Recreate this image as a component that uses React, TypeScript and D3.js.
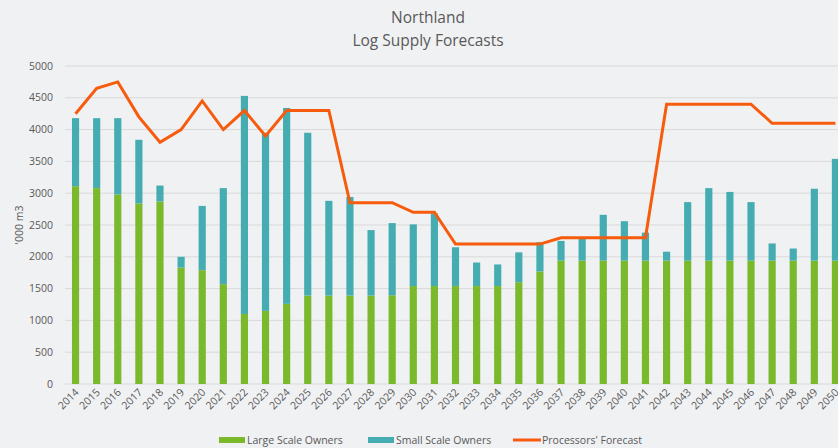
import React from 'react'
import * as d3 from 'd3'

const years = [
  '2014', '2015', '2016', '2017', '2018', '2019', '2020', '2021', '2022', '2023',
  '2024', '2025', '2026', '2027', '2028', '2029', '2030', '2031', '2032', '2033',
  '2034', '2035', '2036', '2037', '2038', '2039', '2040', '2041', '2042', '2043',
  '2044', '2045', '2046', '2047', '2048', '2049', '2050',
]

const largeOwners = [
  3110, 3080, 2980, 2840, 2870, 1830, 1790, 1570, 1100, 1150,
  1260, 1390, 1390, 1390, 1390, 1395, 1540, 1540, 1540, 1540,
  1540, 1600, 1770, 1940, 1940, 1940, 1940, 1940, 1940, 1940,
  1940, 1940, 1940, 1940, 1940, 1940, 1940,
]

const totalSupply = [
  4180, 4180, 4180, 3840, 3120, 2000, 2800, 3080, 4530, 3950,
  4340, 3950, 2880, 2940, 2420, 2530, 2510, 2680, 2150, 1910,
  1880, 2070, 2230, 2250, 2280, 2660, 2560, 2380, 2080, 2860,
  3080, 3020, 2860, 2210, 2130, 3070, 3540,
]
const smallOwners = totalSupply.map((t, i) => t - largeOwners[i])

const processorsForecast = [
  4250, 4650, 4750, 4200, 3800, 4000, 4450, 4000, 4300, 3900,
  4300, 4300, 4300, 2850, 2850, 2850, 2700, 2700, 2200, 2200,
  2200, 2200, 2200, 2300, 2300, 2300, 2300, 2300, 4400, 4400,
  4400, 4400, 4400, 4100, 4100, 4100, 4100,
]

const yTicks = [0, 500, 1000, 1500, 2000, 2500, 3000, 3500, 4000, 4500, 5000]

const width = 838
const height = 448
const font = "'Open Sans', sans-serif"
const textColor = '#595959'
const green = '#7AB92B'
const teal = '#45ADB1'
const orange = '#F65B0E'

export default function App() {
  const x = d3.scaleBand().domain(years).range([65, 846]).paddingInner(0.66).paddingOuter(0.33)
  const y = d3.scaleLinear().domain([0, 5000]).range([384, 66])
  const cx = (yr) => (x(yr) as number) + x.bandwidth() / 2

  const line = d3
    .line<number>()
    .x((d, i) => cx(years[i]))
    .y((d) => y(d))

  return (
    <div style={{ position: 'absolute', left: 0, top: 0 }}>
      <svg width={width} height={height} style={{ display: 'block', background: '#F0F1F3', fontFamily: font }}>
        <text x={428} y={23} textAnchor="middle" fontSize={15.5} fill={textColor}>Northland</text>
        <text x={428} y={46} textAnchor="middle" fontSize={15.5} fill={textColor}>Log Supply Forecasts</text>

        {/* grid + y axis */}
        <g>
          {yTicks.map((t) => (
            <g key={t}>
              <line x1={65} x2={846} y1={y(t)} y2={y(t)} stroke="#D9D9D9" strokeWidth={1} />
              <text x={53} y={y(t)} dy="0.35em" textAnchor="end" fontSize={10.5} fill={textColor}>{t}</text>
            </g>
          ))}
        </g>
        <text transform={`translate(23,225) rotate(-90)`} textAnchor="middle" fontSize={10.5} fill={textColor}>'000 m3</text>

        {/* stacked bars */}
        <g>
          {years.map((yr, i) => (
            <g key={yr}>
              <rect x={x(yr)} width={x.bandwidth()} y={y(largeOwners[i])} height={y(0) - y(largeOwners[i])} fill={green} />
              <rect x={x(yr)} width={x.bandwidth()} y={y(totalSupply[i])} height={y(largeOwners[i]) - y(totalSupply[i])} fill={teal} />
            </g>
          ))}
        </g>

        <path d={line(processorsForecast) as string} fill="none" stroke={orange} strokeWidth={3} strokeLinejoin="miter" />

        {/* x axis labels */}
        <g>
          {years.map((yr) => (
            <text
              key={yr}
              transform={`translate(${cx(yr) + 4},${393}) rotate(-45)`}
              textAnchor="end"
              fontSize={10.5}
              fill={textColor}
            >
              {yr}
            </text>
          ))}
        </g>

        {/* legend */}
        <g fontSize={10.5} fill={textColor}>
          <rect x={219} y={437} width={26} height={6} fill={green} />
          <text x={247} y={440} dy="0.35em">Large Scale Owners</text>
          <rect x={368} y={437} width={26} height={6} fill={teal} />
          <text x={396} y={440} dy="0.35em">Small Scale Owners</text>
          <line x1={513} x2={541} y1={440} y2={440} stroke={orange} strokeWidth={3} />
          <text x={542} y={440} dy="0.35em">Processors' Forecast</text>
        </g>
      </svg>
    </div>
  )
}
